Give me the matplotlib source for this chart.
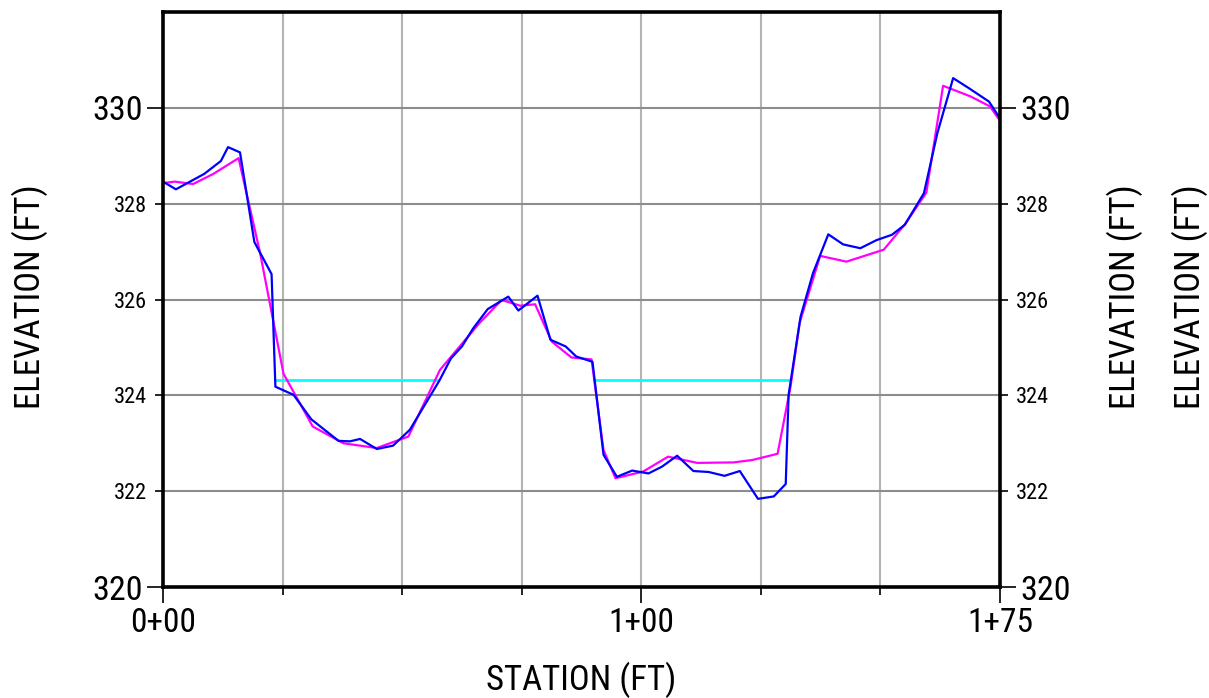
import matplotlib
matplotlib.use("Agg")
import matplotlib.pyplot as plt
import numpy as np
from matplotlib import font_manager

# ---- data ----
ground_sta = [0, 2.7, 8.6, 12.1, 13.6, 16.1, 19.1, 22.7, 23.5, 27.3, 31.0, 36.7, 39.1, 41.2,
              44.7, 48.1, 51.6, 57.8, 60.2, 62.5, 64.8, 67.9, 72.2, 74.3, 78.3, 81.0, 84.2,
              86.4, 89.8, 92.1, 94.9, 98.1, 101.5, 104.3, 107.5, 110.9, 114.1, 117.4, 120.6,
              124.4, 127.7, 130.2, 130.8, 133.3, 135.9, 139.1, 142.2, 145.8, 149.2, 152.4,
              155.1, 159.1, 161.9, 165.2, 168.5, 172.7, 175.0]
ground_elev = [328.46, 328.30, 328.62, 328.89, 329.18, 329.07, 327.20, 326.53, 324.18, 324.01,
               323.50, 323.05, 323.04, 323.09, 322.88, 322.95, 323.28, 324.31, 324.77, 325.02,
               325.39, 325.80, 326.06, 325.77, 326.08, 325.16, 325.02, 324.81, 324.70, 322.76,
               322.30, 322.43, 322.37, 322.51, 322.74, 322.42, 322.40, 322.32, 322.42, 321.84,
               321.89, 322.15, 324.01, 325.64, 326.55, 327.36, 327.15, 327.07, 327.24, 327.35,
               327.56, 328.22, 329.47, 330.62, 330.41, 330.13, 329.78]

design_sta = [0, 2.5, 6.3, 10.5, 15.8, 20.3, 25.2, 31.3, 37.7, 44.7, 51.3, 57.9, 66.0, 70.8,
              74.7, 77.8, 81.3, 85.4, 89.6, 92.1, 94.6, 100.4, 105.6, 111.7, 119.3, 123.2,
              128.5, 131.2, 133.1, 137.4, 142.9, 150.7, 155.2, 159.6, 163.1, 168.8, 172.9, 175.0]
design_elev = [328.43, 328.46, 328.41, 328.62, 328.95, 326.97, 324.45, 323.35, 323.00, 322.90,
               323.14, 324.53, 325.49, 325.99, 325.87, 325.90, 325.12, 324.79, 324.75, 322.86,
               322.27, 322.41, 322.72, 322.59, 322.60, 322.65, 322.78, 324.18, 325.51, 326.91,
               326.79, 327.04, 327.58, 328.23, 330.46, 330.24, 330.03, 329.73]

water_sta = [23.5, 57.6, np.nan, 90.4, 130.8]
water_elev = [324.31, 324.31, np.nan, 324.31, 324.31]

x_major = [0, 100, 175]
x_major_labels = ["0+00", "1+00", "1+75"]
x_minor = [25, 50, 75, 125, 150]
y_major = [320, 330]
y_major_labels = ["320", "330"]
y_minor = [322, 324, 326, 328]
y_minor_labels = ["322", "324", "326", "328"]

# ---- font: prefer a narrow / condensed sans face ----
prefs = ["liberationsansnarrow-regular", "liberationsansnarrow", "robotocondensed-regular",
         "opensans-condensed", "opensans_condensed", "notosans-condensed.",
         "notosans-condensedregular", "dejavusanscondensed."]
fp = None
files = [f.fname for f in font_manager.fontManager.ttflist]
for p in prefs:
    for fn in files:
        base = fn.split("/")[-1].lower()
        if base.startswith(p) and "bold" not in base and "italic" not in base:
            fp = fn
            break
    if fp:
        break

narrow = fp is not None and "dejavu" not in fp.lower()
scale = 1.0 if narrow else 0.88

def fprop(size):
    if fp:
        return font_manager.FontProperties(fname=fp, size=size * scale)
    return font_manager.FontProperties(family="Liberation Sans", size=size * scale)

fig = plt.figure(figsize=(12.09, 6.98), dpi=100)
ax = fig.add_axes([163/1209, 1-587/698, (1000-163)/1209, (587-12)/698])

ax.set_xlim(0, 175)
ax.set_ylim(320, 332)

# grid
for xv in x_minor + [100]:
    ax.axvline(xv, color="#b4b4b4", lw=1.5, zorder=1)
for yv in y_minor + [330]:
    ax.axhline(yv, color="#8c8c8c", lw=1.5, zorder=1)

ax.plot(water_sta, water_elev, color="#00ffff", lw=2.0, zorder=3)
ax.plot(design_sta, design_elev, color="#ff00ff", lw=1.6, zorder=4)
ax.plot(ground_sta, ground_elev, color="#0000ff", lw=1.6, zorder=5)

for s in ax.spines.values():
    s.set_linewidth(2.6)
    s.set_color("black")
    s.set_zorder(6)

ax.set_xticks(x_major)
ax.set_xticklabels(x_major_labels)
ax.set_xticks(x_minor, minor=True)
ax.tick_params(axis='x', which='major', direction='out', length=11.5, width=1.2, pad=3)
ax.tick_params(axis='x', which='minor', direction='out', length=6, width=1.2)
for lab in ax.get_xticklabels():
    lab.set_fontproperties(fprop(24))

ax.set_yticks(y_major)
ax.set_yticklabels(y_major_labels)
ax.set_yticks(y_minor, minor=True)
ax.set_yticklabels(y_minor_labels, minor=True)
ax.tick_params(axis='y', which='major', direction='out', length=11.5, width=1.2, pad=3,
               left=True, right=True, labelleft=True, labelright=True)
ax.tick_params(axis='y', which='minor', direction='out', length=6, width=1.2, pad=5.5,
               left=True, right=True, labelleft=True, labelright=True)
for t in ax.yaxis.get_major_ticks():
    t.label1.set_fontproperties(fprop(24.5))
    t.label2.set_fontproperties(fprop(24.5))
for t in ax.yaxis.get_minor_ticks():
    t.label1.set_fontproperties(fprop(16))
    t.label2.set_fontproperties(fprop(16))

for xp in (30, 1125, 1190):
    fig.text(xp/1209, 1-297/698, "ELEVATION (FT)", rotation=90, fontproperties=fprop(25),
             ha='center', va='center')
fig.text(581/1209, 1-680/698, "STATION (FT)", fontproperties=fprop(25), ha='center', va='center')

fig.savefig("out.png", dpi=100)
